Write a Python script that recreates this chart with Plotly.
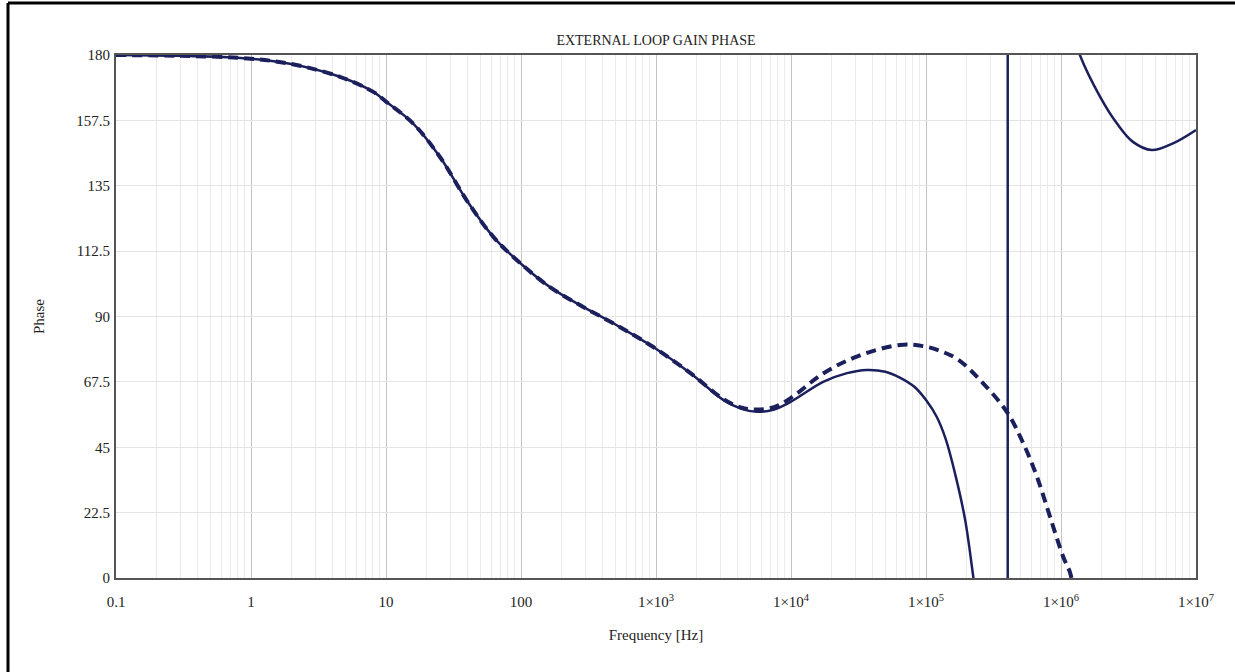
import plotly.graph_objects as go

# solid trace: loop gain phase (deg) vs frequency (Hz)
solid_freq = [0.1, 0.3, 0.84, 1.94, 4.56, 8.05, 10.1, 15.9, 25.1, 39.6, 62.4, 98, 164, 289,
              512, 955, 1.8e3, 3.15e3, 4.3e3, 5.6e3, 7.5e3, 1e4, 1.73e4, 2.6e4, 3.64e4, 5e4,
              6.4e4, 8.2e4, 1.01e5, 1.2e5, 1.4e5, 1.65e5, 1.95e5, 2.24e5, 2.4e5]
solid_phase = [180, 179.7, 179.0, 177.0, 172.5, 167.3, 163.8, 156.4, 144.9, 130, 117.4, 108.5,
               100.1, 93.3, 87, 79.5, 70.5, 61.3, 58.2, 57.2, 58.0, 60.7, 67.5, 70.5, 71.6, 71.0,
               69.0, 65.8, 61.0, 55.5, 47.8, 35.5, 20, 0.4, -10]

# wrap of the solid phase at ~4e5 Hz
wrap_freq = [4.03e5, 4.03e5]
wrap_phase = [-5, 185]

# solid trace after the wrap
tail_freq = [1.3e6, 1.38e6, 1.95e6, 2.59e6, 3.41e6, 4.7e6, 6.76e6, 1e7]
tail_phase = [184, 180, 165.6, 156.5, 150.1, 147.3, 149.6, 154.2]

# dashed trace
dash_freq = [0.1, 0.3, 0.84, 1.94, 4.56, 8.05, 10.1, 15.9, 25.1, 39.6, 62.4, 98, 164, 289,
             512, 955, 1.8e3, 3.15e3, 4.3e3, 5.6e3, 7.5e3, 1e4, 1.73e4, 3.07e4, 6.4e4, 9.5e4,
             1.3e5, 1.75e5, 2.64e5, 3.98e5, 5.24e5, 6.64e5, 8.3e5, 1.04e6, 1.17e6, 1.25e6]
dash_phase = [180, 179.7, 179.0, 177.0, 172.5, 167.3, 163.8, 156.4, 144.9, 130, 117.4, 108.5,
              100.1, 93.3, 87, 79.5, 70.5, 61.6, 58.6, 58.0, 58.8, 62.0, 70.4, 76.2, 80.2, 79.8,
              78.0, 75.0, 67.1, 57.1, 46.5, 34.8, 21, 7.2, 1.7, -6]

x_tickvals = [0.1, 1, 10, 100, 1e3, 1e4, 1e5, 1e6, 1e7]
x_ticktext = ["0.1", "1", "10", "100", "1×10<sup>3</sup>", "1×10<sup>4</sup>",
              "1×10<sup>5</sup>", "1×10<sup>6</sup>", "1×10<sup>7</sup>"]
y_tickvals = [0, 22.5, 45, 67.5, 90, 112.5, 135, 157.5, 180]
y_ticktext = ["0", "22.5", "45", "67.5", "90", "112.5", "135", "157.5", "180"]

minor_vals = [m * d for d in x_tickvals[:-1] for m in range(2, 10)]

NAVY = "#1b1f5c"
FONT = "Liberation Serif"

fig = go.Figure()
fig.add_trace(go.Scatter(
    x=solid_freq + [None] + wrap_freq + [None] + tail_freq,
    y=solid_phase + [None] + wrap_phase + [None] + tail_phase,
    mode="lines", line=dict(color=NAVY, width=2.5, shape="spline", smoothing=1.0),
    connectgaps=False, showlegend=False,
))
fig.add_trace(go.Scatter(
    x=dash_freq, y=dash_phase,
    mode="lines", line=dict(color=NAVY, width=4, dash="10px,6px", shape="spline", smoothing=1.0),
    showlegend=False,
))

fig.update_xaxes(
    type="log", range=[-1, 7],
    tickmode="array", tickvals=x_tickvals, ticktext=x_ticktext,
    ticks="", ticklabelstandoff=9,
    showgrid=True, gridcolor="#c4c4c4", gridwidth=1,
    minor=dict(tickmode="array", tickvals=minor_vals, showgrid=True,
               gridcolor="#ebebeb", gridwidth=1, ticks=""),
    showline=True, linecolor="#555555", linewidth=2, mirror=True,
    zeroline=False,
    title=dict(text="Frequency [Hz]", standoff=20, font=dict(size=15, color="#222")),
    tickfont=dict(size=15, color="#222"),
)
fig.update_yaxes(
    range=[0, 180],
    tickmode="array", tickvals=y_tickvals, ticktext=y_ticktext,
    ticks="", ticklabelstandoff=1,
    showgrid=True, gridcolor="#e4e4e4", gridwidth=1,
    showline=True, linecolor="#555555", linewidth=2, mirror=True,
    zeroline=False,
    title=dict(text="Phase", standoff=28, font=dict(size=15, color="#222")),
    tickfont=dict(size=15, color="#222"),
)

# outer frame of the picture: only its left and top edges fall inside the page
frame = dict(type="line", xref="paper", yref="paper",
             line=dict(color="black", width=3), layer="above")
fig.add_shape(x0=-0.1, x1=-0.1, y0=-0.4, y1=1.0994, **frame)
fig.add_shape(x0=-0.1, x1=1.3, y0=1.0994, y1=1.0994, **frame)

fig.update_layout(
    width=1235, height=672,
    margin=dict(l=116, r=39, t=55, b=94),
    paper_bgcolor="white", plot_bgcolor="white",
    font=dict(family=FONT, size=15, color="#222"),
    title=dict(text="EXTERNAL LOOP GAIN PHASE", xref="paper", x=0.5, xanchor="center",
               y=1 - 40 / 672, yanchor="middle", font=dict(size=14, color="#222")),
)

fig.write_html("out.html", config={"displayModeBar": False},
               post_script="document.body.style.margin='0';")
